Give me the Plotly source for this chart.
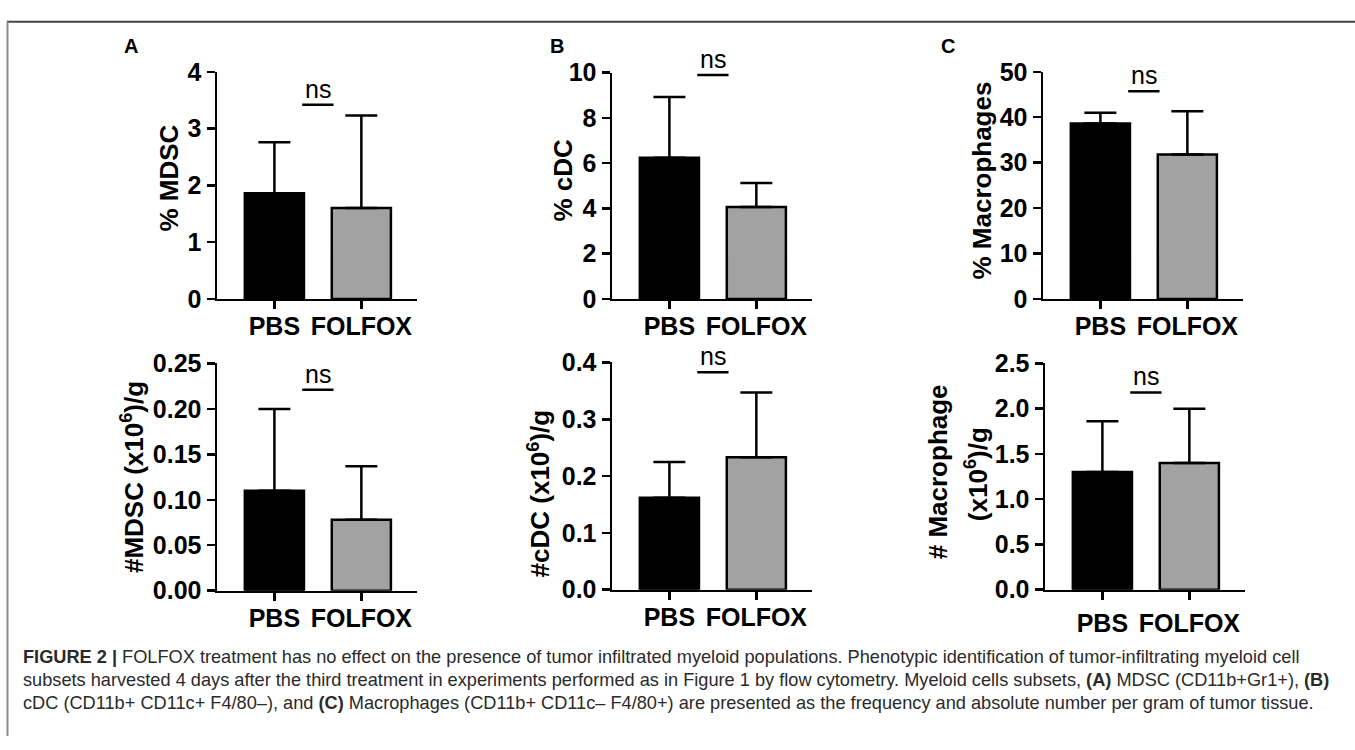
import plotly.graph_objects as go

# ---------------- data ----------------
categories = ["PBS", "FOLFOX"]

mdsc_pct_mean = [1.86, 1.60]
mdsc_pct_err = [0.90, 1.63]
cdc_pct_mean = [6.24, 4.06]
cdc_pct_err = [2.69, 1.06]
mac_pct_mean = [38.6, 31.8]
mac_pct_err = [2.4, 9.5]

mdsc_num_mean = [0.110, 0.078]
mdsc_num_err = [0.090, 0.059]
cdc_num_mean = [0.162, 0.233]
cdc_num_err = [0.063, 0.114]
mac_num_mean = [1.30, 1.40]
mac_num_err = [0.56, 0.60]

mdsc_pct_ticks = [0, 1, 2, 3, 4]
cdc_pct_ticks = [0, 2, 4, 6, 8, 10]
mac_pct_ticks = [0, 10, 20, 30, 40, 50]
mdsc_num_ticks = [0.00, 0.05, 0.10, 0.15, 0.20, 0.25]
cdc_num_ticks = [0.0, 0.1, 0.2, 0.3, 0.4]
mac_num_ticks = [0.0, 0.5, 1.0, 1.5, 2.0, 2.5]

mdsc_pct_ticktext = ["0", "1", "2", "3", "4"]
cdc_pct_ticktext = ["0", "2", "4", "6", "8", "10"]
mac_pct_ticktext = ["0", "10", "20", "30", "40", "50"]
mdsc_num_ticktext = ["0.00", "0.05", "0.10", "0.15", "0.20", "0.25"]
cdc_num_ticktext = ["0.0", "0.1", "0.2", "0.3", "0.4"]
mac_num_ticktext = ["0.0", "0.5", "1.0", "1.5", "2.0", "2.5"]

# level of the "ns" comparison bar, in data units of each panel
ns_levels = [3.42, 9.9, 45.7, 0.221, 0.383, 2.18]

y_titles = ["% MDSC", "% cDC", "% Macrophages",
            "#MDSC (x10<sup>6</sup>)/g", "#cDC (x10<sup>6</sup>)/g",
            "# Macrophage", "(x10<sup>6</sup>)/g"]
panel_letters = ["A", "B", "C"]

caption_lines = [
    "<b>FIGURE 2 |</b> FOLFOX treatment has no effect on the presence of tumor infiltrated myeloid populations. Phenotypic identification of tumor-infiltrating myeloid cell",
    "subsets harvested 4 days after the third treatment in experiments performed as in Figure 1 by flow cytometry. Myeloid cells subsets, <b>(A)</b> MDSC (CD11b+Gr1+), <b>(B)</b>",
    "cDC (CD11b+ CD11c+ F4/80–), and <b>(C)</b> Macrophages (CD11b+ CD11c– F4/80+) are presented as the frequency and absolute number per gram of tumor tissue.",
]

# ---------------- layout geometry (pixels) ----------------
W, H = 1355, 750


def px(x):
    return x / W


def py(y):
    return 1 - y / H


panels = [
    dict(mean=mdsc_pct_mean, err=mdsc_pct_err, ticks=mdsc_pct_ticks, tt=mdsc_pct_ticktext,
         xd=(217, 417), yd=(60, 296)),
    dict(mean=cdc_pct_mean, err=cdc_pct_err, ticks=cdc_pct_ticks, tt=cdc_pct_ticktext,
         xd=(612, 812), yd=(61, 296)),
    dict(mean=mac_pct_mean, err=mac_pct_err, ticks=mac_pct_ticks, tt=mac_pct_ticktext,
         xd=(1043, 1243), yd=(60, 296)),
    dict(mean=mdsc_num_mean, err=mdsc_num_err, ticks=mdsc_num_ticks, tt=mdsc_num_ticktext,
         xd=(217, 417), yd=(363, 599)),
    dict(mean=cdc_num_mean, err=cdc_num_err, ticks=cdc_num_ticks, tt=cdc_num_ticktext,
         xd=(612, 812), yd=(362, 598)),
    dict(mean=mac_num_mean, err=mac_num_err, ticks=mac_num_ticks, tt=mac_num_ticktext,
         xd=(1045, 1245), yd=(363, 598)),
]
# pixel positions of the (rotated) y-axis title centres
title_pos = [(169, 171), (563, 173), (982, 173), (132, 481), (539, 498), (938, 475), (976, 478)]

FONT = "Liberation Sans, Arial, Helvetica, sans-serif"
bar_colors = ["#000000", "#a2a2a2"]

fig = go.Figure()
layout = dict(
    width=W, height=H,
    margin=dict(l=0, r=0, t=0, b=0),
    paper_bgcolor="white", plot_bgcolor="white",
    showlegend=False,
    bargap=0,
)
annotations = []
shapes = []

for i, p in enumerate(panels):
    n = i + 1
    xa = "x" if n == 1 else f"x{n}"
    ya = "y" if n == 1 else f"y{n}"
    fig.add_trace(go.Bar(
        x=categories, y=p["mean"],
        xaxis=xa, yaxis=ya,
        width=0.68,
        marker=dict(color=bar_colors, line=dict(color="black", width=2.5)),
        error_y=dict(type="data", symmetric=False, array=p["err"], arrayminus=[0, 0],
                     color="black", thickness=2.5, width=16),
        hoverinfo="skip",
    ))
    axis_common = dict(showline=True, linecolor="black", linewidth=2.5,
                       ticks="outside", ticklen=8, tickwidth=2.5, tickcolor="black",
                       showgrid=False, zeroline=False, fixedrange=True)
    layout["xaxis" if n == 1 else f"xaxis{n}"] = dict(
        domain=[px(p["xd"][0]), px(p["xd"][1])],
        anchor=ya, type="category", range=[-0.66, 1.64], tickangle=0,
        ticklabelstandoff=(2 if n == 6 else -4),
        tickfont=dict(family=FONT, size=25, color="black", weight="bold"),
        **axis_common)
    layout["yaxis" if n == 1 else f"yaxis{n}"] = dict(
        domain=[py(p["yd"][1]), py(p["yd"][0])],
        anchor=xa, range=[p["ticks"][0], p["ticks"][-1]],
        tickvals=p["ticks"], ticktext=p["tt"],
        tickfont=dict(family=FONT, size=25, color="black", weight="bold"),
        **axis_common)
    # ns bar and text
    shapes.append(dict(type="line", xref=xa, yref=ya,
                       x0=0.32, x1=0.68, y0=ns_levels[i], y1=ns_levels[i],
                       line=dict(color="black", width=2.5)))
    annotations.append(dict(
        text="ns", xref=xa, yref=ya, x=0.5, y=ns_levels[i],
        xanchor="center", yanchor="bottom", yshift=0, showarrow=False,
        font=dict(family=FONT, size=25, color="black")))

# y-axis titles
for t, (tx, ty) in zip(y_titles, title_pos):
    annotations.append(dict(
        text=t, xref="paper", yref="paper", x=px(tx), y=py(ty),
        xanchor="center", yanchor="middle", textangle=-90, showarrow=False,
        font=dict(family=FONT, size=26, color="black", weight="bold")))

# panel letters
for letter, (lx, ly) in zip(panel_letters, [(131, 33), (557, 33), (948, 33)]):
    annotations.append(dict(text=letter, xref="paper", yref="paper",
                            x=px(lx), y=py(ly), xanchor="center", yanchor="middle",
                            showarrow=False,
                            font=dict(family=FONT, size=20, color="black", weight="bold")))

# caption
for k, line in enumerate(caption_lines):
    annotations.append(dict(text=line, xref="paper", yref="paper",
                            x=px(21), y=py(668 + 24 * k), xanchor="left", yanchor="middle",
                            showarrow=False, align="left",
                            font=dict(family=FONT, size=18.2, color="#2a2a2a")))

# frame lines of the figure box
shapes.append(dict(type="line", xref="paper", yref="paper",
                   x0=px(7), x1=1, y0=py(8), y1=py(8),
                   line=dict(color="#444444", width=2)))
shapes.append(dict(type="line", xref="paper", yref="paper",
                   x0=px(7.5), x1=px(7.5), y0=py(8), y1=0,
                   line=dict(color="#8a8a8a", width=2)))

layout["annotations"] = annotations
layout["shapes"] = shapes
fig.update_layout(**layout)

# the page body has no margin, so figure pixels are screen pixels
fig.write_html("out.html", config={"displayModeBar": False, "staticPlot": True},
               post_script="document.body.style.margin='0';")
